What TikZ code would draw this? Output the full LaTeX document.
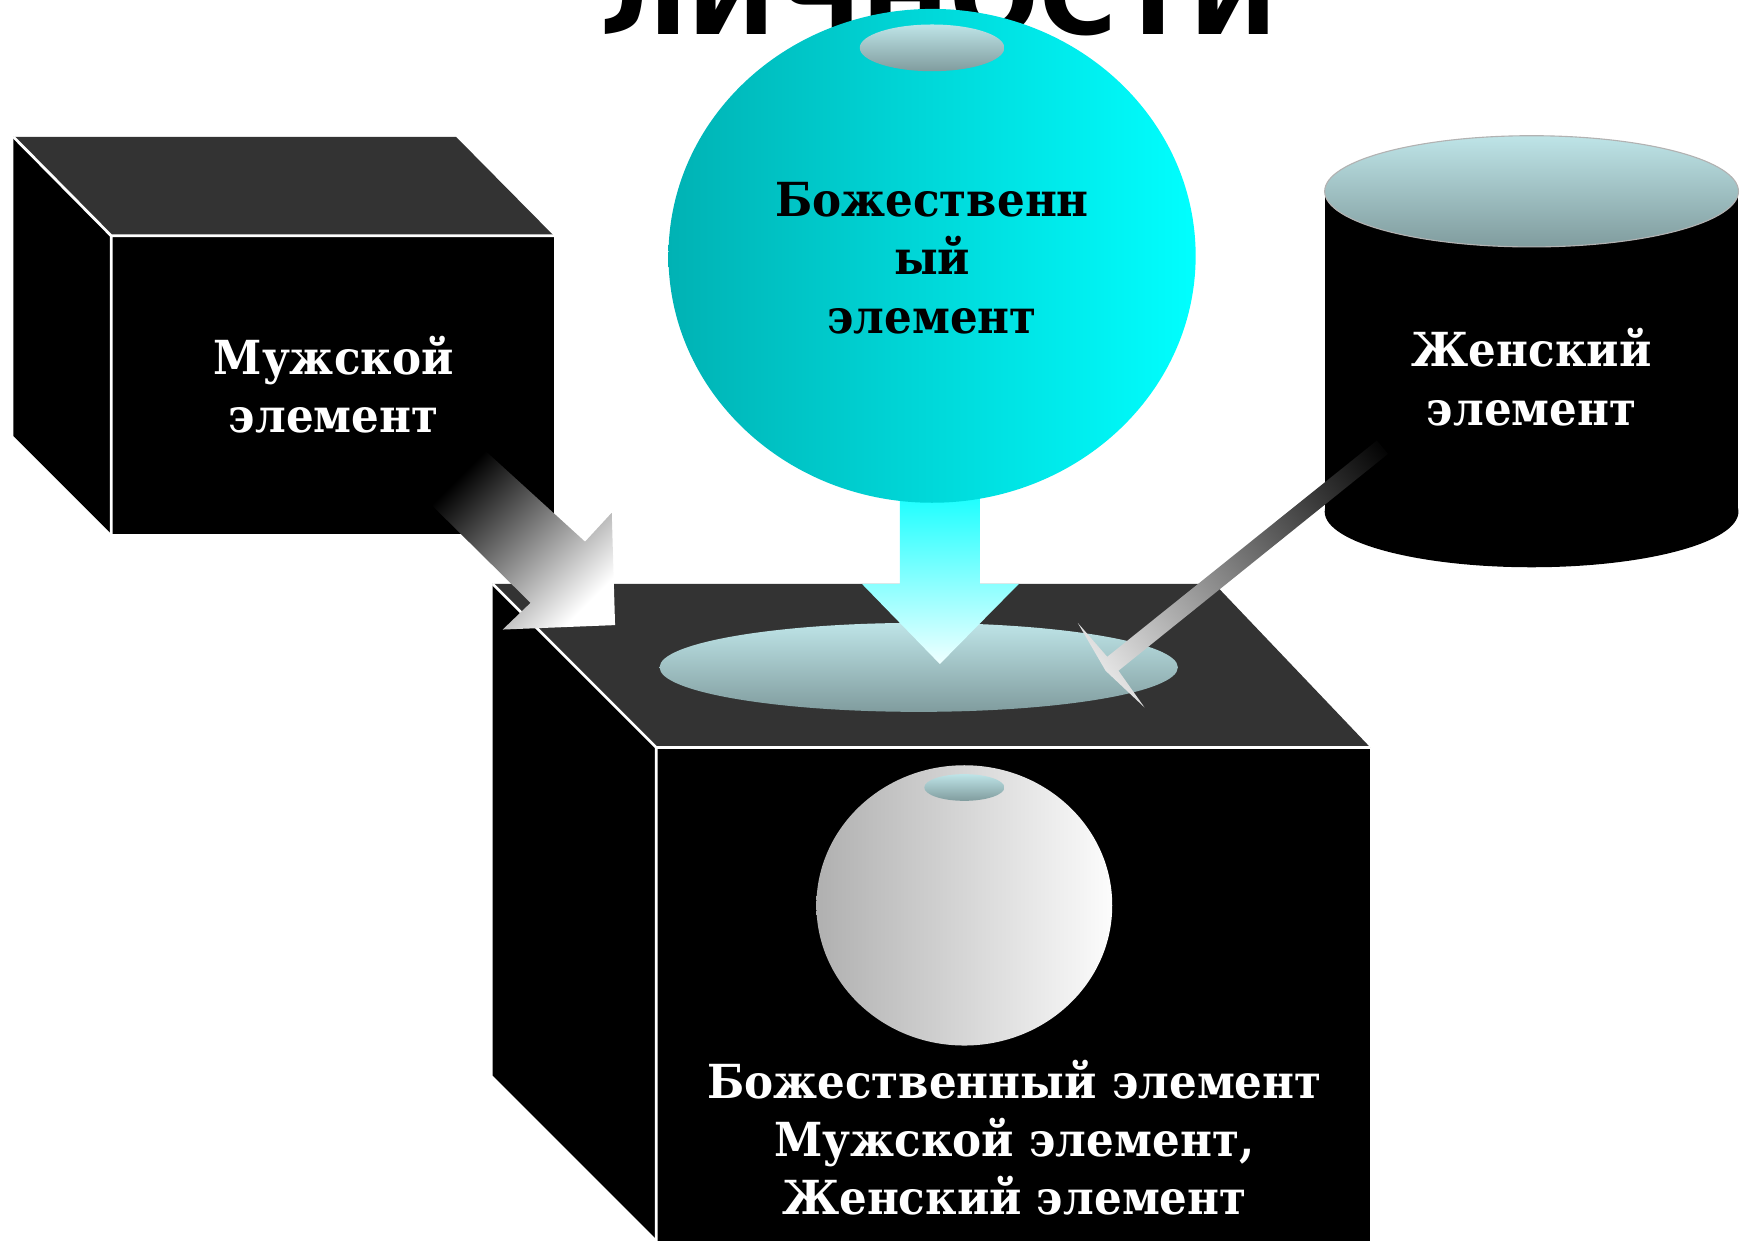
\documentclass[tikz,border=0pt]{standalone}
\usepackage{fontspec}
\setmainfont{DejaVu Serif}[FakeStretch=0.93]
\setsansfont{DejaVu Sans}
\usetikzlibrary{positioning,calc}
\definecolor{LidGray}{RGB}{51,51,51}
\definecolor{CapLight}{RGB}{190,228,231}
\definecolor{CapDark}{RGB}{128,156,158}
\definecolor{OrbDark}{RGB}{0,178,180}
\definecolor{OrbLight}{RGB}{0,255,255}
\definecolor{PearlDark}{RGB}{176,176,176}
\definecolor{PearlLight}{RGB}{252,252,252}
\definecolor{BeamTop}{RGB}{20,255,255}
\definecolor{BeamTip}{RGB}{240,255,255}
\pgfdeclareverticalshading{ray}{100bp}{color(0bp)=(black); color(15bp)=(black); color(85bp)=(white); color(100bp)=(white)}
\tikzset{
  face/.style={fill=black},
  lid/.style={fill=LidGray},
  rim/.style={draw=white,line width=0.25mm},
  lens/.style={top color=CapLight,bottom color=CapDark},
  lbl/.style={font=\fontsize{12}{14.9}\selectfont\bfseries,align=center,inner sep=0pt},
}
\begin{document}
\begin{tikzpicture}[x=0.1mm,y=-0.1mm]
\useasboundingbox (0,0) rectangle (1568,1115);
\begin{scope}
\clip (0,0) rectangle (1568,1115);
\node[font=\sffamily\bfseries\fontsize{27}{30}\selectfont,anchor=base,inner sep=0pt] (title) at (844,31) {ЛИЧНОСТИ};
\coordinate (mA) at (12,123);
\coordinate (mB) at (410,123);
\coordinate (mC) at (498,212);
\coordinate (mD) at (100,212);
\coordinate (mE) at (100,480);
\coordinate (mF) at (498,480);
\coordinate (mG) at (12,392);
\fill[lid] (mA)--(mB)--(mC)--(mD)--cycle;
\fill[face] (mA)--(mD)--(mE)--(mG)--cycle;
\fill[face] (mD)--(mC)--(mF)--(mE)--cycle;
\draw[rim] (mA)--(mD)--(mC) (mD)--(mE);
\fill[face] (1377,460) ellipse (186 and 50);
\fill[face] (1191,172) rectangle (1563,460);
\shade[lens,draw=gray!60,line width=0.1mm] (1377,172) ellipse (186 and 50);
\coordinate (bA) at (443,525);
\coordinate (bB) at (1092,525);
\coordinate (bC) at (1232,672);
\coordinate (bD) at (590,672);
\coordinate (bE) at (590,1114);
\coordinate (bF) at (1232,1130);
\coordinate (bG) at (443,967);
\fill[lid] (bA)--(bB)--(bC)--(bD)--cycle;
\fill[face] (bA)--(bD)--(bE)--(bG)--cycle;
\fill[face] (bD)--(bC)--(bF)--(590,1130)--cycle;
\draw[rim] (bA)--(bD)--(bC) (bD)--(590,1130);
\shade[lens] (826,600) ellipse (233 and 40);
\shade[left color=PearlDark,right color=PearlLight] (867,814) ellipse (133 and 126);
\shade[lens] (867,708) ellipse (36 and 12);
\node[lbl,text=white] (male) at (300,346) {Мужской\\элемент};
\node[lbl,text=white] (female) at (1377,339) {Женский\\элемент};
\node[lbl,text=white] (union) at (912,1023) {Божественный элемент\\Мужской элемент,\\Женский элемент};
\shade[bottom color=black,top color=white,shading angle=225]
  (436,405)--(526,487)--(550,461)--(553,562)--(452,566)--(477,542)--(388,454)--cycle;
\shade[shading=ray,shading angle=129]
  (1238,396)--(995.5,590.5)--(969,560)--(994,603)--(1029,636)--(1005.6,603)--(1248,408)--cycle;
\shade[top color=BeamTop,bottom color=BeamTip]
  (809,440)--(809,525)--(775,525)--(845,597)--(916,525)--(881,525)--(881,440)--cycle;
\shade[left color=OrbDark,right color=OrbLight] (838,230) ellipse (237 and 222);
\shade[lens] (838,43) ellipse (65 and 21);
\node[lbl,text=black] (divine) at (838,232) {Божественн\\ый\\элемент};
\end{scope}
\end{tikzpicture}
\end{document}
